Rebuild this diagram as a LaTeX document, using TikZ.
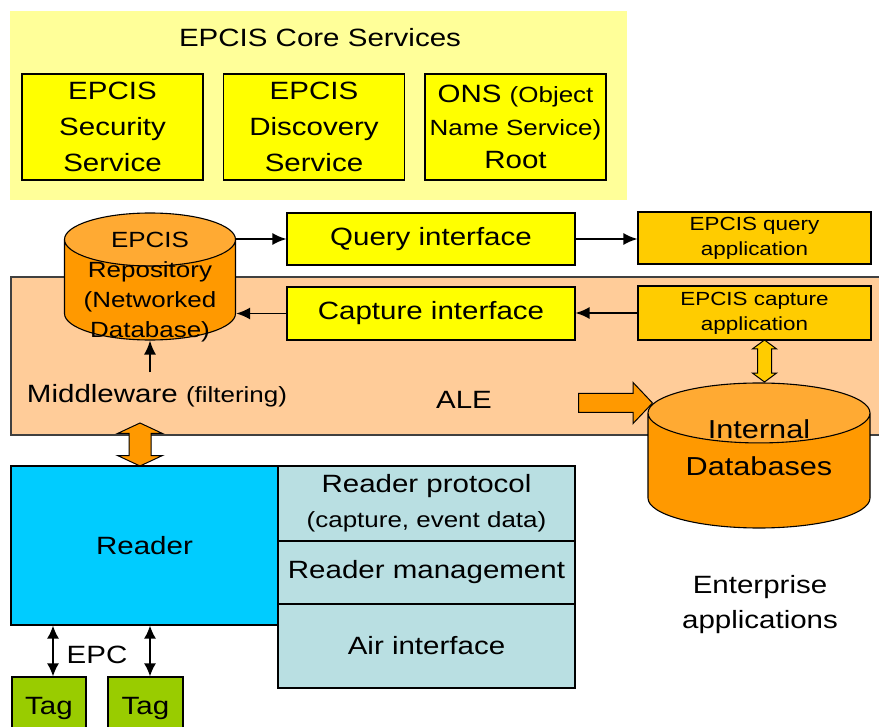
\documentclass[tikz,border=0pt]{standalone}
\usepackage{fontspec}
\setmainfont{Liberation Sans}[FakeStretch=1.18]
\usetikzlibrary{shapes.geometric,shapes.arrows,arrows.meta}

\definecolor{coreyellow}{HTML}{FFFF99}
\definecolor{boxyellow}{HTML}{FFFF00}
\definecolor{appgold}{HTML}{FFCC00}
\definecolor{aleband}{HTML}{FFCC99}
\definecolor{dborange}{HTML}{FF9900}
\definecolor{dbtop}{HTML}{FFAA33}
\definecolor{readerblue}{HTML}{00CCFF}
\definecolor{protogray}{HTML}{B9DFE2}
\definecolor{taggreen}{HTML}{99CC00}

\newcommand{\fsz}[2]{\fontsize{#1}{#2}\selectfont}

\begin{document}
\begin{tikzpicture}[x=1pt,y=-1pt,
	box/.style={draw, line width=1.1pt, inner sep=0pt, align=center, font=\fsz{25}{36}},
	db/.style={cylinder, shape border rotate=90, anchor=shape center, draw, line width=1.1pt, inner sep=0pt,
		cylinder uses custom fill, cylinder body fill=dborange, cylinder end fill=dbtop},
	arr/.style={-{Latex[length=14pt,width=12pt]}, line width=1.8pt},
	dblarr/.style={{Latex[length=13pt,width=12pt]}-{Latex[length=13pt,width=12pt]}, line width=1.8pt},
	blockarrow/.style={double arrow, draw, line width=1pt, inner sep=0pt, rotate=90}
]
	\useasboundingbox (0,0) rectangle (879,727);

	% core services
	\node 	(core)		at	(318.5,105.5)	[fill=coreyellow, minimum width=617, minimum height=189]{};
	\node 	(coretitle)	at	(320,38)	[font=\fsz{25}{30}]{EPCIS Core Services};
	\node 	(security)	at	(112.5,127)	[box, fill=boxyellow, minimum width=181, minimum height=106]{EPCIS\\Security\\Service};
	\node 	(discovery)	at	(314,127)	[box, fill=boxyellow, minimum width=181, minimum height=106]{EPCIS\\Discovery\\Service};
	\node 	(ons)		at	(515.5,127)	[box, fill=boxyellow, minimum width=181, minimum height=106, font=\fsz{25}{33}]{ONS {\fsz{22}{33}(Object}\\{\fsz{22}{33}Name Service)}\\Root};

	% ALE band
	\node 	(ale)		at	(455.5,356)	[draw=black!75, line width=1.1pt, fill=aleband, minimum width=889, minimum height=158]{};
	\node 	(aletext)	at	(464,400)	[font=\fsz{25}{30}]{ALE};
	\node 	(mw)		at	(157,396)	[font=\fsz{25}{30}, inner sep=0pt]{Middleware {\fsz{22}{30}(filtering)}};

	% repository and interfaces
	\node 	(repo)		at	(150,276.5)	[db, text width=171pt, minimum height=127, aspect=0.31,
		label={[font=\fsz{22}{30}, align=center, yshift=3pt]center:EPCIS\\Repository\\(Networked\\Database)}]{};
	\node 	(query)		at	(431,239)	[box, fill=boxyellow, minimum width=288, minimum height=52]{Query interface};
	\node 	(capture)	at	(431,313.5)	[box, fill=boxyellow, minimum width=288, minimum height=53]{Capture interface};
	\node 	(qapp)		at	(754.5,238)	[box, fill=appgold, minimum width=233, minimum height=52, font=\fsz{19}{25}]{EPCIS query\\application};
	\node 	(capp)		at	(754.5,313)	[box, fill=appgold, minimum width=233, minimum height=54, font=\fsz{19}{25}]{EPCIS capture\\application};

	\draw[arr] (query.west -| repo.east) -- (query.west);
	\draw[arr] (query.east) -- (query.east -| qapp.west);
	\draw[arr] (capp.west) -- (capp.west -| capture.east);
	\draw[arr] (capture.west) -- (capture.west -| repo.east);
	\draw[arr] ([yshift=12pt]mw.north -| repo.south) -- (repo.south);

	% enterprise side
	\node 	(idb)		at	(759,455.5)	[db, text width=222pt, minimum height=145, aspect=0.27,
		label={[font=\fsz{26}{37}, align=center, yshift=23pt]center:Internal\\Databases}]{};
	\node 	(toidb)		at	(611,403)	[single arrow, draw, line width=1pt, fill=dborange, inner sep=9pt, minimum height=74, single arrow head extend=11pt, single arrow tip angle=93]{};
	\node 	(appdb)		at	(764.5,361)	[blockarrow, fill=appgold, inner ysep=6.5pt, minimum height=42, double arrow head extend=5pt, double arrow tip angle=107]{};
	\node 	(ent)		at	(760,605)	[align=center, font=\fsz{25}{35}]{Enterprise\\applications};

	% reader
	\node 	(mwreader)	at	(140,444.5)	[blockarrow, fill=dborange, inner ysep=10.5pt, minimum height=43, double arrow head extend=11.5pt, double arrow tip angle=130]{};
	\node 	(reader)	at	(144.5,545.5)	[box, fill=readerblue, minimum width=267, minimum height=159]{Reader};
	\node 	(proto)		at	(426.5,503.5)	[box, fill=protogray, minimum width=297, minimum height=75, font=\fsz{25}{35}]{Reader protocol\\{\fsz{22}{35}(capture, event data)}};
	\node 	(mgmt)		at	(426.5,572.5)	[box, fill=protogray, minimum width=297, minimum height=63]{Reader management};
	\node 	(air)		at	(426.5,646)	[box, fill=protogray, minimum width=297, minimum height=84]{Air interface};

	% tags
	\node 	(tag1)		at	(49,708.5)	[box, fill=taggreen, minimum width=74, minimum height=63]{Tag};
	\node 	(tag2)		at	(145.5,708.5)	[box, fill=taggreen, minimum width=75, minimum height=63]{Tag};
	\draw[dblarr] ([xshift=4pt]tag1.north) -- ([xshift=4pt]tag1.north |- reader.south);
	\draw[dblarr] ([xshift=4.5pt]tag2.north) -- ([xshift=4.5pt]tag2.north |- reader.south);
	\node 	(epc)		at	(97,655)	[font=\fsz{25}{30}]{EPC};

\end{tikzpicture}
\end{document}
